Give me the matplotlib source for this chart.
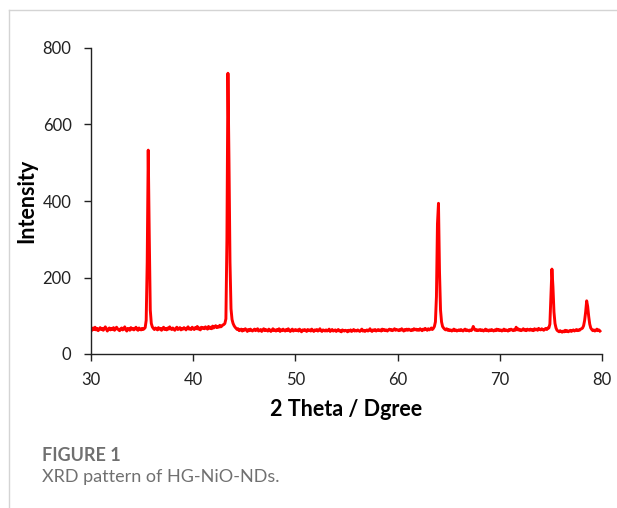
import matplotlib
matplotlib.use("Agg")
import matplotlib.pyplot as plt
from matplotlib.lines import Line2D
import numpy as np

# XRD scan: start angle, step and intensities (one row per degree)
two_theta_start = 30.0
two_theta_step = 0.1
intensity = [
    66, 62, 68, 64, 70, 63, 67, 61, 65, 69,   # 30
    64, 67, 62, 66, 71, 65, 60, 66, 68, 63,   # 31
    67, 64, 69, 62, 65, 70, 66, 63, 61, 66,   # 32
    68, 63, 65, 71, 64, 60, 67, 66, 62, 69,   # 33
    65, 67, 63, 66, 70, 64, 62, 68, 65, 63,   # 34
    67, 64, 66, 69, 88, 240, 533, 310, 115, 80,  # 35
    71, 67, 64, 68, 66, 63, 69, 65, 67, 62,   # 36
    66, 70, 64, 67, 63, 68, 65, 71, 66, 64,   # 37
    68, 65, 62, 67, 70, 64, 66, 69, 63, 67,   # 38
    65, 69, 66, 63, 68, 71, 65, 67, 64, 70,   # 39
    67, 64, 69, 66, 72, 65, 68, 63, 70, 67,   # 40
    69, 66, 71, 68, 65, 72, 67, 70, 66, 73,   # 41
    68, 71, 74, 69, 72, 70, 75, 71, 73, 76,   # 42
    77, 80, 92, 300, 734, 507, 240, 118, 90, 80,  # 43
    74, 70, 67, 64, 66, 61, 63, 65, 60, 64,   # 44
    62, 66, 63, 59, 64, 61, 65, 62, 60, 63,   # 45
    65, 61, 63, 66, 60, 62, 64, 59, 63, 66,   # 46
    61, 64, 62, 60, 65, 63, 59, 62, 66, 61,   # 47
    63, 60, 64, 62, 66, 59, 63, 61, 65, 62,   # 48
    60, 64, 61, 66, 62, 59, 63, 65, 60, 62,   # 49
    64, 61, 63, 60, 65, 62, 58, 63, 61, 64,   # 50
    62, 59, 64, 61, 63, 60, 65, 62, 59, 63,   # 51
    61, 64, 60, 62, 66, 61, 59, 63, 62, 60,   # 52
    63, 60, 62, 65, 59, 62, 64, 60, 61, 63,   # 53
    59, 62, 64, 60, 61, 58, 63, 61, 60, 62,   # 54
    61, 58, 62, 60, 63, 59, 61, 64, 60, 62,   # 55
    60, 63, 61, 59, 62, 65, 60, 62, 59, 61,   # 56
    63, 60, 62, 66, 61, 59, 63, 61, 64, 60,   # 57
    62, 64, 61, 63, 60, 65, 62, 64, 61, 63,   # 58
    60, 63, 65, 62, 64, 61, 63, 66, 62, 64,   # 59
    63, 61, 64, 62, 66, 63, 60, 64, 62, 65,   # 60
    62, 65, 63, 61, 64, 62, 66, 63, 65, 62,   # 61
    64, 62, 66, 63, 61, 65, 63, 67, 64, 62,   # 62
    66, 63, 65, 68, 64, 67, 72, 84, 150, 340,  # 63
    394, 215, 115, 84, 72, 68, 65, 63, 66, 62,  # 64
    64, 61, 63, 60, 62, 65, 61, 63, 60, 62,   # 65
    63, 61, 64, 62, 60, 63, 65, 61, 63, 62,   # 66
    60, 63, 61, 64, 72, 66, 62, 64, 61, 63,   # 67
    62, 64, 61, 63, 60, 62, 65, 61, 63, 60,   # 68
    63, 61, 64, 62, 60, 63, 61, 65, 62, 64,   # 69
    61, 63, 60, 62, 65, 61, 63, 62, 60, 64,   # 70
    62, 65, 63, 61, 64, 62, 70, 63, 66, 62,   # 71
    64, 61, 63, 66, 62, 64, 61, 65, 63, 62,   # 72
    65, 62, 64, 61, 66, 63, 65, 62, 67, 64,   # 73
    63, 66, 64, 62, 65, 67, 64, 68, 68, 78,   # 74
    150, 222, 176, 110, 80, 68, 62, 60, 58, 61,  # 75
    59, 57, 60, 58, 62, 59, 61, 58, 60, 62,   # 76
    59, 61, 63, 60, 62, 64, 61, 63, 62, 65,   # 77
    66, 68, 74, 88, 110, 139, 124, 98, 78, 68,  # 78
    64, 61, 63, 60, 62, 65, 61, 63, 60,       # 79
]
x_ticks = [30, 40, 50, 60, 70, 80]
y_ticks = [0, 200, 400, 600, 800]

two_theta = two_theta_start + two_theta_step * np.arange(len(intensity))

plt.rcParams['font.family'] = ['Lato', 'DejaVu Sans']

fig = plt.figure(figsize=(6.17, 5.08), dpi=100)
ax = fig.add_axes([91 / 617, 1 - 354 / 508, (602 - 91) / 617, (354 - 48) / 508])

ax.plot(two_theta, intensity, color='#ff0000', lw=2.1, solid_joinstyle='round')

ax.set_xlim(30, 80)
ax.set_ylim(0, 800)
ax.set_xticks(x_ticks)
ax.set_yticks(y_ticks)
ax.tick_params(direction='out', length=5, width=1, labelsize=12, colors='#222222')
ax.tick_params(axis='x', pad=8)
ax.tick_params(axis='y', pad=9)
for side in ['top', 'right']:
    ax.spines[side].set_visible(False)
for side in ['left', 'bottom']:
    ax.spines[side].set_color('#222222')
    ax.spines[side].set_linewidth(1)

ax.set_xlabel('2 Theta / Dgree', fontsize=15.5, fontweight='bold', labelpad=8)
ax.set_ylabel('Intensity', fontsize=15.5, fontweight='bold', labelpad=4)

# page frame lines
fig.add_artist(Line2D([8.5 / 617, 1], [1 - 9.5 / 508, 1 - 9.5 / 508], color='#d4d4d4', lw=1))
fig.add_artist(Line2D([8.5 / 617, 8.5 / 617], [0, 1 - 9.5 / 508], color='#d4d4d4', lw=1))

# caption
fig.text(42 / 617, 1 - 461 / 508, 'FIGURE 1', fontsize=13, fontweight='bold',
         color='#707070', va='baseline')
fig.text(42 / 617, 1 - 482 / 508, 'XRD pattern of HG-NiO-NDs.', fontsize=13,
         color='#707070', va='baseline')

fig.savefig('out.png', dpi=100)
